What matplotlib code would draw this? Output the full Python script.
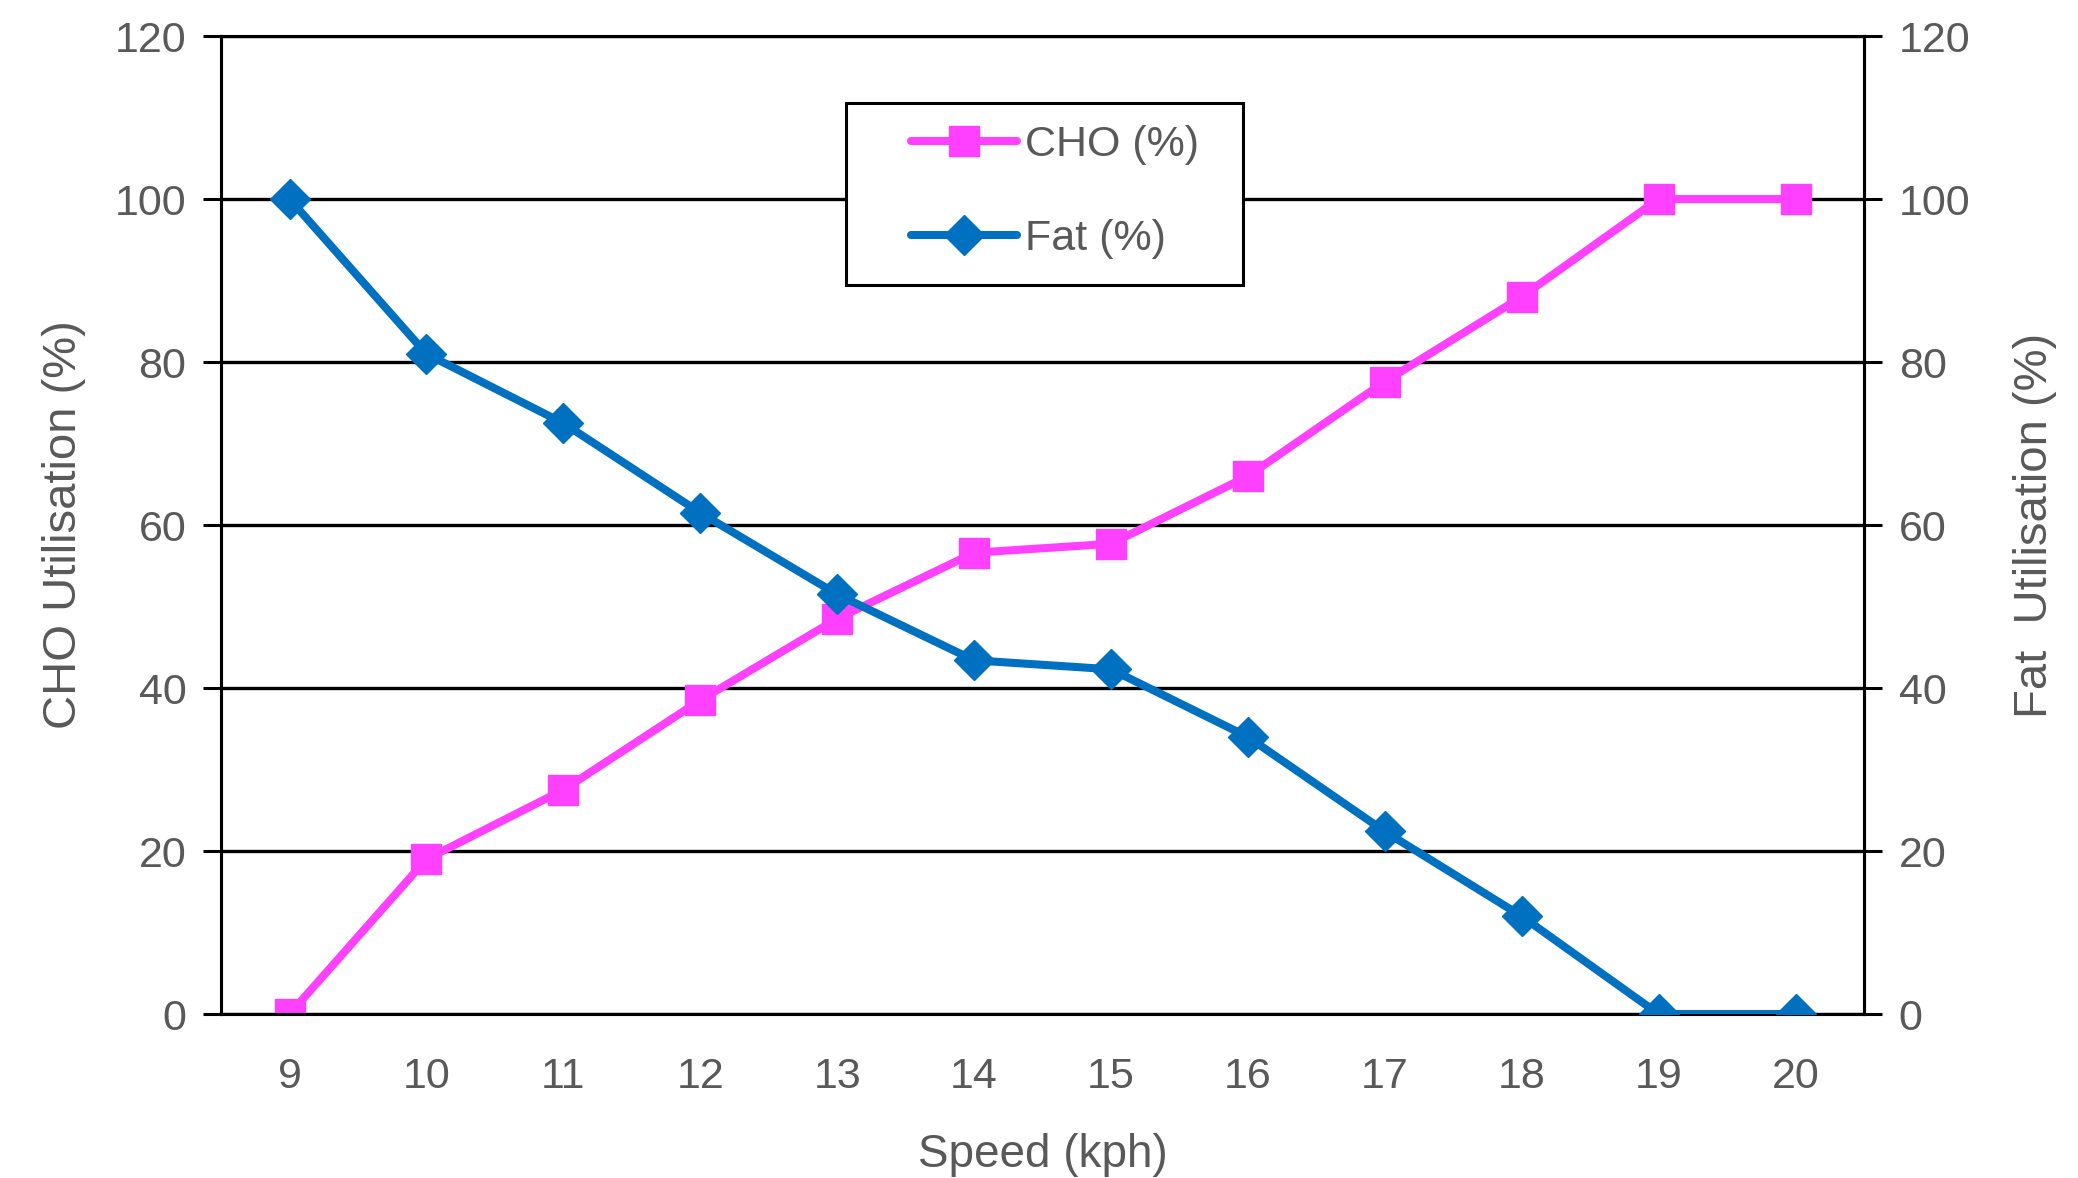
import matplotlib
matplotlib.use("Agg")
import matplotlib.pyplot as plt
from matplotlib.patches import Rectangle

# substrate utilisation by running speed
speeds = [9, 10, 11, 12, 13, 14, 15, 16, 17, 18, 19, 20]
cho_pct = [0, 19.0, 27.5, 38.5, 48.5, 56.6, 57.7, 66.0, 77.6, 88.0, 100, 100]
fat_pct = [100, 81.0, 72.5, 61.5, 51.5, 43.4, 42.3, 34.0, 22.4, 12.0, 0, 0]
y_ticks = [0, 20, 40, 60, 80, 100, 120]

PINK = "#FF40FF"
BLUE = "#0070C0"
GREY = "#595959"
FONT = "Liberation Sans"


def main():
    fig = plt.figure(figsize=(20.78, 11.78), dpi=100)
    ax = fig.add_axes([0.1064, 0.1392, 0.7906, 0.8302])
    ax2 = ax.twinx()

    l1, = ax.plot(speeds, cho_pct, color=PINK, lw=5.8, marker="s", ms=21,
                  solid_capstyle="round", label="CHO (%)", zorder=3)
    l2, = ax2.plot(speeds, fat_pct, color=BLUE, lw=5.8, marker="D", ms=20,
                   solid_capstyle="round", label="Fat (%)", zorder=3)

    for a in (ax, ax2):
        a.set_ylim(0, 120)
        a.set_yticks(y_ticks)
        a.set_xlim(8.5, 20.5)
        for s in a.spines.values():
            s.set_color("black")
            s.set_linewidth(2.2)
        a.tick_params(axis="y", length=13, width=2.2, color="black", labelsize=31,
                      labelcolor=GREY, pad=12)
        for t in a.get_yticklabels():
            t.set_fontfamily(FONT)

    ax.set_xticks(speeds)
    ax.tick_params(axis="x", length=0, labelsize=31, labelcolor=GREY, pad=31)
    for t in ax.get_xticklabels():
        t.set_fontfamily(FONT)

    ax.grid(axis="y", color="black", lw=2.4)
    ax.set_axisbelow(True)

    ax.set_xlabel("Speed (kph)", fontsize=33, color=GREY, family=FONT, labelpad=26)
    ax.set_ylabel("CHO Utilisation (%)", fontsize=34, color=GREY, family=FONT, labelpad=21)
    ax2.set_ylabel("Fat  Utilisation (%)", fontsize=34, color=GREY, family=FONT,
                   rotation=90, labelpad=31)

    # legend box drawn separately so its padding can be wider than tall
    box = Rectangle((0.3806, 0.745), 0.2412, 0.187, transform=ax2.transAxes,
                    facecolor="white", edgecolor="black", lw=2.2, zorder=4)
    ax2.add_patch(box)
    leg = ax2.legend(handles=[l1, l2], loc="center left",
                     bbox_to_anchor=(0.420, 0.8408), frameon=False,
                     prop={"family": FONT, "size": 31}, labelcolor=GREY,
                     handlelength=2.45, handletextpad=0.2, borderpad=0,
                     labelspacing=1.25, borderaxespad=0)
    leg.set_zorder(5)
    ax2.set_zorder(ax.get_zorder() + 1)

    fig.savefig("out.png", dpi=100, facecolor="white")


if __name__ == "__main__":
    main()
